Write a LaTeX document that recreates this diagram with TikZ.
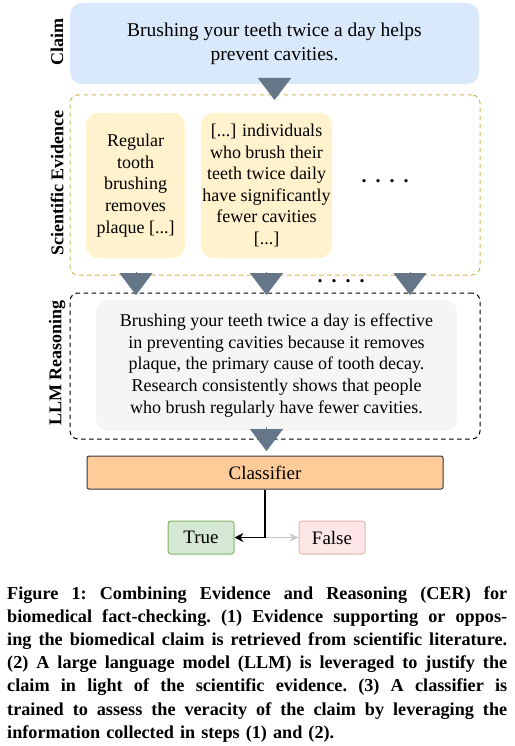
\documentclass[tikz,border=0pt]{standalone}
\usepackage{fontspec}
\setmainfont{Liberation Serif}
\usetikzlibrary{positioning,arrows.meta,calc}
\definecolor{claimfill}{HTML}{DAE8FC}
\definecolor{evfill}{HTML}{FFF2CC}
\definecolor{evline}{HTML}{D6B656}
\definecolor{llmfill}{HTML}{F5F5F5}
\definecolor{slate}{HTML}{647687}
\definecolor{clsfill}{HTML}{FFCC99}
\definecolor{clsline}{HTML}{36393D}
\definecolor{truefill}{HTML}{D5E8D4}
\definecolor{trueline}{HTML}{82B366}
\definecolor{falsefill}{HTML}{FCE7E6}
\definecolor{falseline}{HTML}{E4B4B2}
\definecolor{fadedline}{HTML}{C8C8C8}
\newcommand{\capline}[1]{\makebox[500pt][s]{\frenchspacing\spaceskip=0pt\xspaceskip=0pt\relax #1}\\}

\begin{document}
\begin{tikzpicture}[x=1pt,y=-1pt,
  box/.style={rounded corners=12pt, align=center, inner sep=0pt, font=\fontsize{18}{21.6}\selectfont},
  side/.style={rotate=90, inner sep=0pt, font=\fontsize{18}{21.6}\selectfont\bfseries},
  frame/.style={line width=1pt, rounded corners=8pt, dash pattern=on 4.5pt off 3.5pt},
  tri/.style={-{Triangle[width=33pt,length=22pt]}, draw=slate, fill=slate, line width=0.1pt},
  label/.style={draw, rounded corners=3pt, minimum width=66pt, minimum height=33pt, line width=1pt, font=\fontsize{19}{22}\selectfont},
  dots/.style={font=\fontsize{20}{22}\selectfont\bfseries}]
  \useasboundingbox (0,0) rectangle (514,746);

  % claim
  \node[box, fill=claimfill, minimum width=409pt, minimum height=81pt, font=\fontsize{19.5}{24}\selectfont] (claim) at (274.5,43.5) {Brushing your teeth twice a day helps\\prevent cavities.};
  \node[side] (claimlab) at (57,42) {Claim};

  % scientific evidence
  \node[frame, draw=evline, minimum width=410pt, minimum height=180pt] (evframe) at (275,185) {};
  \node[side] (evlab) at (57,183) {Scientific Evidence};
  \node[box, fill=evfill, minimum width=99pt, minimum height=145pt] (ev1) at (135.5,185.5) {Regular\\tooth\\brushing\\removes\\plaque [...]};
  \node[box, fill=evfill, minimum width=131pt, minimum height=145pt] (ev2) at (266.5,185.5) {[...] individuals\\who brush their\\teeth twice daily\\have significantly\\fewer cavities\\{[...]}};
  \node[dots] (evdots) at (385,181) {.\hspace{9pt}.\hspace{9pt}.\hspace{9pt}.};

  % llm reasoning
  \node[frame, draw=black, minimum width=410pt, minimum height=146pt] (llmframe) at (275,366) {};
  \node[side] (llmlab) at (57,363) {LLM Reasoning};
  \node[box, fill=llmfill, minimum width=361pt, minimum height=131pt] (llm) at (276.5,365.5) {Brushing your teeth twice a day is effective\\in preventing cavities because it removes\\plaque, the primary cause of tooth decay.\\Research consistently shows that people\\who brush regularly have fewer cavities.};
  \node[dots] (arrdots) at (341,281) {.\hspace{9pt}.\hspace{9pt}.\hspace{9pt}.};

  % classifier
  \node[draw=clsline, fill=clsfill, line width=1pt, rounded corners=2pt, minimum width=356pt, minimum height=33pt, inner sep=0pt, font=\fontsize{19}{22}\selectfont] (cls) at (265,472.5) {Classifier};
  \node[label, draw=trueline, fill=truefill] (true) at (201,537.5) {True};
  \node[label, draw=falseline, fill=falsefill] (false) at (332,537.5) {False};
  \coordinate (split) at (cls.south |- true.east);

  % block arrows
  \draw[tri] (274.5,79) -- (274.5,100);
  \draw[tri] (136,272) -- (136,295);
  \draw[tri] (266.5,272) -- (266.5,295);
  \draw[tri] (410,272) -- (410,295);
  \draw[tri] (266.5,427) -- (266.5,451);

  \draw[fadedline, line width=1.2pt, -{Stealth[length=9pt,width=8pt]}] (split) -- (false.west);
  \draw[black, line width=1.5pt, -{Stealth[length=9pt,width=9pt]}] (cls.south) |- (true.east);

  % caption
  \node[anchor=north west, text width=500pt, align=left, inner sep=0pt, font=\fontsize{18.2}{23.2}\selectfont\bfseries] (caption) at (7,586) {%
    \capline{Figure 1: Combining Evidence and Reasoning (CER) for}
    \capline{biomedical fact-checking. (1) Evidence supporting or oppos-}
    \capline{ing the biomedical claim is retrieved from scientific literature.}
    \capline{(2) A large language model (LLM) is leveraged to justify the}
    \capline{claim in light of the scientific evidence. (3) A classifier is}
    \capline{trained to assess the veracity of the claim by leveraging the}
    {\frenchspacing information collected in steps (1) and (2).}};
\end{tikzpicture}
\end{document}
